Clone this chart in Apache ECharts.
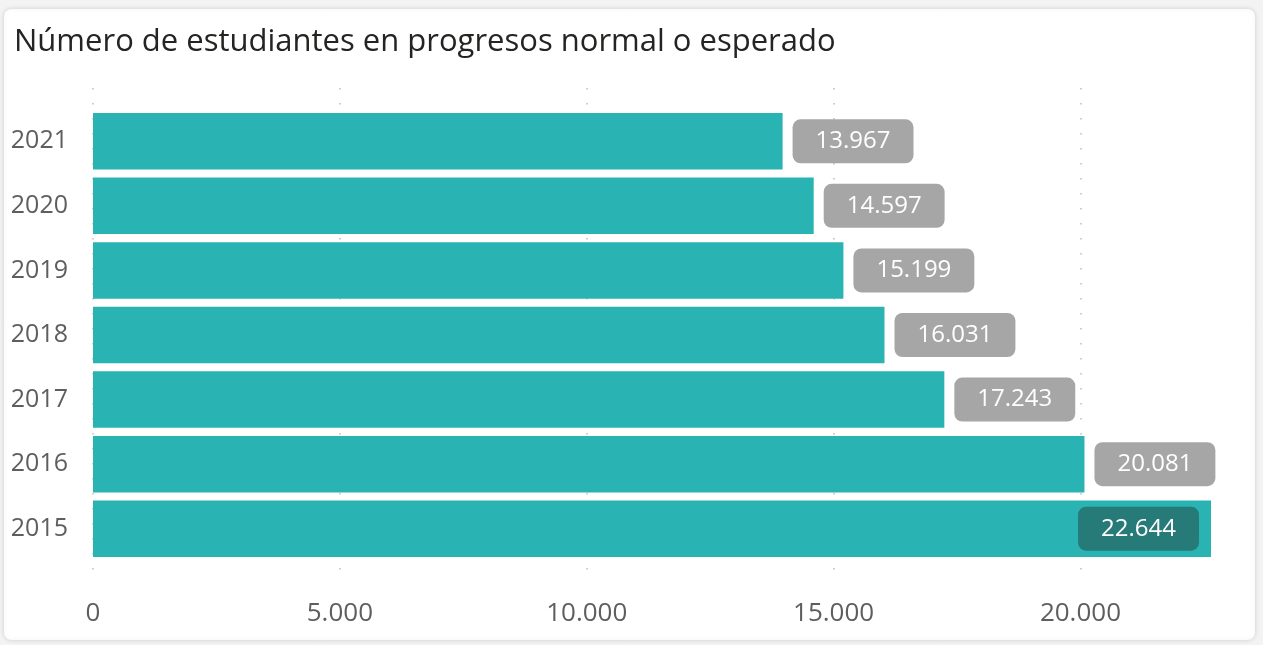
<!DOCTYPE html>
<html>
<head>
<meta charset="utf-8">
<script src="https://cdn.jsdelivr.net/npm/echarts@6/dist/echarts.min.js"></script>
<style>
html,body{margin:0;padding:0;background:#f3f3f3;}
#chart{width:1263px;height:645px;}
</style>
</head>
<body>
<div id="chart"></div>
<script>
const title = 'Número de estudiantes en progresos normal o esperado';
const years = ['2021', '2020', '2019', '2018', '2017', '2016', '2015'];
const students = [13967, 14597, 15199, 16031, 17243, 20081, 22644];
const xTicks = [0, 5000, 10000, 15000, 20000];

function fmt(v) {
  return String(Math.round(v)).replace(/\B(?=(\d{3})+(?!\d))/g, '.');
}

const maxVal = Math.max.apply(null, students);
const chart = echarts.init(document.getElementById('chart'), null, {renderer: 'canvas'});
const FONT = 'Open Sans';

const barData = students.map(function (v) {
  if (v === maxVal) {
    return {value: v, label: {position: 'insideRight', distance: 12, backgroundColor: '#267a78'}};
  }
  return {value: v};
});

chart.setOption({
  animation: false,
  backgroundColor: 'transparent',
  graphic: [{
    type: 'rect', z: -10, silent: true,
    shape: {x: 3.5, y: 8.5, width: 1252, height: 632, r: 8},
    style: {fill: '#ffffff', stroke: '#e3e3e3', lineWidth: 1, shadowBlur: 4, shadowColor: 'rgba(0,0,0,0.10)'}
  }],
  title: {
    text: title, left: 9, top: 22,
    textStyle: {fontFamily: FONT, fontSize: 31, fontWeight: 'normal', color: '#252423'}
  },
  grid: [
    {left: 93, right: 52, top: 109, bottom: 84},
    {left: 93, right: 52, top: 88, bottom: 63}
  ],
  xAxis: [{
    gridIndex: 0, type: 'value', min: 0, max: maxVal, interval: 5000,
    axisLabel: {show: false}, axisLine: {show: false}, axisTick: {show: false}, splitLine: {show: false}
  }, {
    gridIndex: 1, type: 'value', min: 0, max: maxVal, interval: 5000,
    axisLine: {show: false}, axisTick: {show: false},
    axisLabel: {
      showMaxLabel: false, margin: 19, color: '#605e5c', fontFamily: FONT, fontSize: 26,
      formatter: function (v) { return xTicks.indexOf(v) >= 0 ? fmt(v) : ''; }
    },
    splitLine: {show: true, showMaxLine: false, lineStyle: {color: '#bdbdbd', width: 1.5, type: [1.5, 13.5]}}
  }],
  yAxis: [{
    gridIndex: 0, type: 'category', data: years, inverse: true,
    axisLine: {show: false}, axisTick: {show: false},
    axisLabel: {margin: 25, color: '#605e5c', fontFamily: FONT, fontSize: 25, padding: [6, 0, 0, 0]}
  }, {
    gridIndex: 1, type: 'value', show: false
  }],
  series: [{
    type: 'bar', xAxisIndex: 0, yAxisIndex: 0,
    data: barData, barCategoryGap: '12.5%',
    itemStyle: {color: '#2ab3b3'},
    label: {
      show: true, position: 'right', distance: 10,
      formatter: function (p) { return fmt(p.value); },
      color: '#ffffff', fontFamily: FONT, fontSize: 24, lineHeight: 24,
      backgroundColor: '#a6a6a6', borderRadius: 8, padding: [13, 23, 7, 23]
    }
  }]
});
</script>
</body>
</html>
